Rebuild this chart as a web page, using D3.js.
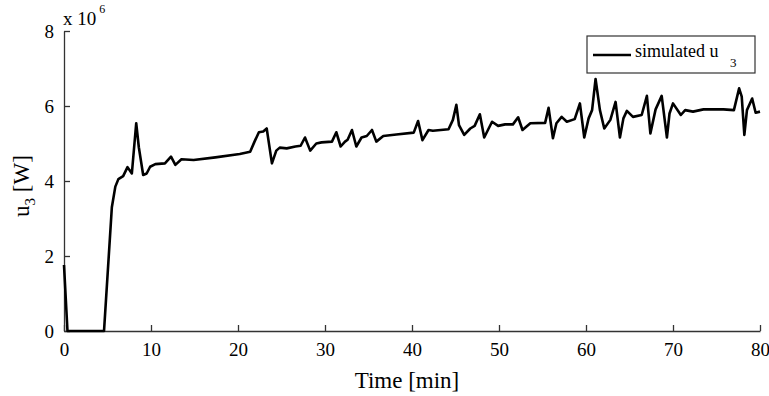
<!DOCTYPE html>
<html>
<head>
<meta charset="utf-8">
<script src="https://cdn.jsdelivr.net/npm/d3@7"></script>
<style>
  body { margin: 0; background: #fff; }
  svg text { font-family: "Liberation Serif", "DejaVu Serif", "Times New Roman", serif; fill: #000; }
</style>
</head>
<body>
<div id="chart"></div>
<script>
// valeurs (temps en min, puissance en 10^6 W)
const timeMin = [0, 0.4, 4.6, 5.5, 5.9, 6.25, 6.8, 7.3, 7.8, 8.3, 8.6, 9.1, 9.5, 9.9, 10.5, 11.6, 12.3, 12.8, 13.5, 14.9,
  17.4, 20.2, 21.4, 21.9, 22.4, 22.9, 23.3, 23.9, 24.4, 24.8, 25.6, 26.6, 27.2, 27.7, 28.3, 29.0, 29.6, 30.8, 31.3, 31.8,
  32.3, 32.6, 33.1, 33.6, 34.2, 34.8, 35.4, 35.9, 36.7, 38.2, 40.2, 40.7, 41.2, 41.9, 42.4, 44.2, 44.7, 45.1, 45.4, 46.0,
  46.7, 47.2, 47.8, 48.3, 49.2, 49.9, 50.7, 51.6, 52.2, 52.7, 53.6, 55.3, 55.7, 56.2, 56.6, 57.2, 57.8, 58.7, 59.3, 59.8,
  60.3, 60.7, 61.1, 61.6, 62.1, 62.8, 63.4, 63.9, 64.3, 64.7, 65.4, 66.4, 67.0, 67.4, 68.0, 68.7, 69.3, 69.6, 70.0, 70.9,
  71.4, 72.3, 73.5, 75.8, 77.0, 77.6, 77.9, 78.2, 78.5, 79.1, 79.5, 80];
const u3 = [1.76, 0, 0, 3.3, 3.85, 4.05, 4.13, 4.37, 4.2, 5.54, 4.9, 4.16, 4.2, 4.38, 4.45, 4.47, 4.65, 4.43, 4.58, 4.56,
  4.63, 4.72, 4.78, 5.05, 5.3, 5.32, 5.4, 4.47, 4.81, 4.89, 4.87, 4.92, 4.94, 5.16, 4.81, 5.0, 5.03, 5.05, 5.3, 4.92,
  5.05, 5.1, 5.36, 4.92, 5.16, 5.2, 5.36, 5.05, 5.2, 5.24, 5.29, 5.6, 5.09, 5.36, 5.34, 5.38, 5.63, 6.03, 5.49, 5.23,
  5.4, 5.47, 5.78, 5.16, 5.58, 5.47, 5.51, 5.51, 5.7, 5.36, 5.54, 5.55, 5.95, 5.14, 5.54, 5.71, 5.58, 5.65, 6.07, 5.16,
  5.67, 5.89, 6.72, 5.89, 5.4, 5.63, 6.11, 5.16, 5.67, 5.87, 5.71, 5.76, 6.27, 5.27, 5.91, 6.27, 5.16, 5.8, 6.07, 5.76,
  5.89, 5.85, 5.91, 5.91, 5.89, 6.47, 6.25, 5.23, 5.89, 6.2, 5.82, 5.85];
const xTicks = [0, 10, 20, 30, 40, 50, 60, 70, 80];
const yTicks = [0, 2, 4, 6, 8];

const serif = "'Liberation Serif', 'DejaVu Serif', 'Times New Roman', serif";
const width = 769;
const height = 396;
const margin = {top: 31, right: 9, bottom: 65, left: 64};
const w = width - margin.left - margin.right;
const h = height - margin.top - margin.bottom;

const svg = d3.select("#chart")
    .append("svg")
    .attr("width", width)
    .attr("height", height);

const g = svg.append("g")
    .attr("transform", "translate(" + margin.left + "," + margin.top + ")");

const x = d3.scaleLinear().domain([0, 80]).range([0, w]);
const y = d3.scaleLinear().domain([0, 8]).range([h, 0]);

// axes avec graduations vers l'intérieur
const xAxis = g.append("g")
    .attr("transform", "translate(0," + h + ")")
    .call(d3.axisBottom(x).tickValues(xTicks).tickSizeInner(-6).tickSizeOuter(0).tickPadding(12));
const yAxis = g.append("g")
    .call(d3.axisLeft(y).tickValues(yTicks).tickSizeInner(-6).tickSizeOuter(0).tickPadding(10));

[xAxis, yAxis].forEach(a => {
    a.attr("font-family", serif);
    a.select(".domain").attr("stroke", "#333").attr("stroke-width", 1.3);
    a.selectAll(".tick line").attr("stroke", "#333").attr("stroke-width", 1.3);
    a.selectAll(".tick text")
        .style("font-family", serif)
        .style("font-size", "19px")
        .attr("fill", "#000");
});

// courbe simulée
const pts = timeMin.map((t, i) => ({t: t, v: u3[i]}));
const line = d3.line().x(d => x(d.t)).y(d => y(d.v));
g.append("path")
    .datum(pts)
    .attr("fill", "none")
    .attr("stroke", "#000")
    .attr("stroke-width", 2.6)
    .attr("stroke-linejoin", "round")
    .attr("d", line);

// multiplicateur x 10^6
const mult = svg.append("text")
    .attr("x", 63)
    .attr("y", 25)
    .style("font-family", serif)
    .style("font-size", "19px")
    .text("x 10");
mult.append("tspan")
    .attr("dx", 3)
    .attr("dy", -12)
    .style("font-size", "12px")
    .text("6");

// titres des axes
svg.append("text")
    .attr("x", margin.left + w / 2 - 5)
    .attr("y", 388)
    .attr("text-anchor", "middle")
    .style("font-family", serif)
    .style("font-size", "23px")
    .text("Time [min]");

const yl = svg.append("text")
    .attr("transform", "translate(29," + (margin.top + h / 2 + 5) + ") rotate(-90)")
    .attr("text-anchor", "middle")
    .style("font-family", serif)
    .style("font-size", "23px")
    .text("u");
yl.append("tspan").attr("dy", 6).style("font-size", "15px").text("3");
yl.append("tspan").attr("dy", -6).text(" [W]");

// légende
const leg = svg.append("g").attr("transform", "translate(587,36)");
leg.append("rect")
    .attr("width", 168)
    .attr("height", 37)
    .attr("fill", "#fff")
    .attr("stroke", "#333")
    .attr("stroke-width", 1.2);
leg.append("line")
    .attr("x1", 6).attr("x2", 44)
    .attr("y1", 19).attr("y2", 19)
    .attr("stroke", "#000")
    .attr("stroke-width", 2.6);
leg.append("text")
    .attr("x", 48)
    .attr("y", 21)
    .style("font-family", serif)
    .style("font-size", "18px")
    .text("simulated u");
leg.append("text")
    .attr("x", 143)
    .attr("y", 31)
    .style("font-family", serif)
    .style("font-size", "13px")
    .text("3");
</script>
</body>
</html>
